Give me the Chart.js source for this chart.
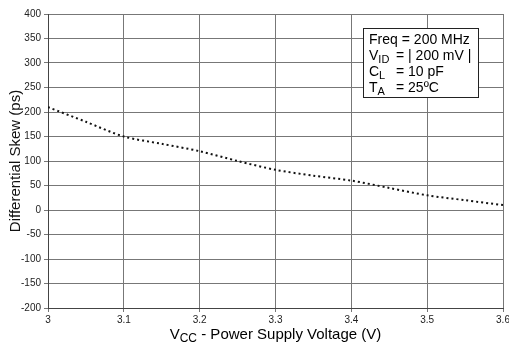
<!DOCTYPE html>
<html>
<head>
<meta charset="utf-8">
<script src="https://cdn.jsdelivr.net/npm/chart.js@4"></script>
<style>
  html, body { margin: 0; padding: 0; background: #fff; }
  #wrap { width: 509px; height: 343px; }
</style>
</head>
<body>
<div id="wrap"><canvas id="chart" width="509" height="343"></canvas></div>
<script>
// Vcc (V) vs differential skew (ps)
const vcc  = [3.0, 3.05, 3.1, 3.15, 3.2, 3.25, 3.3, 3.35, 3.4, 3.45, 3.5, 3.55, 3.6];
const skew = [210, 180, 150, 135, 120, 100, 82, 70, 60, 45, 30, 20, 10];

const yMin = -200, yMax = 400, yStep = 50;
const xMin = 3, xMax = 3.6, xStep = 0.1;

const legendLines = [
  ['Freq', '', '= 200 MHz'],
  ['V', 'ID', '= | 200 mV |'],
  ['C', 'L', '= 10 pF'],
  ['T', 'A', '= 25ºC']
];

const FONT = "'Liberation Sans', Arial, sans-serif";

// draws x title (with subscript) and the condition box
const extras = {
  id: 'extras',
  afterDraw(chart) {
    const ctx = chart.ctx;
    const area = chart.chartArea;
    ctx.save();
    ctx.fillStyle = '#000';
    ctx.textBaseline = 'alphabetic';

    // x axis title
    const cx = (area.left + area.right) / 2;
    const by = 339;
    const a = 'V', rest = ' - Power Supply Voltage (V)';
    ctx.font = '15px ' + FONT;
    const wa = ctx.measureText(a).width;
    const wr = ctx.measureText(rest).width;
    ctx.font = '12px ' + FONT;
    const ws = ctx.measureText('CC').width;
    let x = cx - (wa + ws + wr) / 2;
    ctx.font = '15px ' + FONT;
    ctx.fillText(a, x, by);
    x += wa;
    ctx.font = '12px ' + FONT;
    ctx.fillText('CC', x, by + 3);
    x += ws;
    ctx.font = '15px ' + FONT;
    ctx.fillText(rest, x, by);

    // condition box
    const bx = 363, bTop = 28, bw = 115, bh = 69;
    ctx.fillStyle = '#fff';
    ctx.fillRect(bx, bTop, bw, bh);
    ctx.strokeStyle = '#222';
    ctx.lineWidth = 1;
    ctx.strokeRect(bx + 0.5, bTop + 0.5, bw, bh);
    ctx.fillStyle = '#000';
    legendLines.forEach((l, i) => {
      const ly = bTop + 16 + i * 16;
      ctx.font = '14px ' + FONT;
      ctx.fillText(l[0], bx + 6, ly);
      let lx = bx + 6 + ctx.measureText(l[0]).width;
      if (l[1]) {
        ctx.font = '11px ' + FONT;
        ctx.fillText(l[1], lx, ly + 3);
      }
      ctx.font = '14px ' + FONT;
      const vx = l[1] ? bx + 33 : lx + 4;
      ctx.fillText(l[2], vx, ly);
    });
    ctx.restore();
  }
};

new Chart(document.getElementById('chart'), {
  type: 'line',
  data: {
    datasets: [{
      data: vcc.map((v, i) => ({ x: v, y: skew[i] })),
      borderColor: '#111',
      borderWidth: 2,
      borderDash: [2, 3],
      pointRadius: 0,
      fill: false,
      tension: 0.3
    }]
  },
  options: {
    responsive: false,
    animation: false,
    layout: { padding: { top: 14, right: 0, left: 0, bottom: 0 } },
    plugins: {
      legend: { display: false },
      tooltip: { enabled: false }
    },
    scales: {
      x: {
        type: 'linear',
        min: xMin, max: xMax,
        afterFit(s) { s.height = 35; s.paddingRight = 6; s.paddingLeft = 0; },
        grid: { color: '#777', lineWidth: 1, tickLength: 4, drawTicks: true },
        border: { color: '#444', width: 1 },
        ticks: {
          stepSize: xStep,
          color: '#222',
          font: { family: FONT, size: 10 },
          padding: 2,
          callback: v => String(Number(v.toFixed(1)))
        }
      },
      y: {
        min: yMin, max: yMax,
        afterFit(s) { s.width = 48; },
        grid: { color: '#777', lineWidth: 1, tickLength: 4 },
        border: { color: '#444', width: 1 },
        title: {
          display: true,
          text: 'Differential Skew (ps)',
          color: '#111',
          font: { family: FONT, size: 15 },
          padding: { top: 7, bottom: 0 }
        },
        ticks: {
          stepSize: yStep,
          color: '#222',
          font: { family: FONT, size: 10 },
          padding: 3
        }
      }
    }
  },
  plugins: [extras]
});
</script>
</body>
</html>
